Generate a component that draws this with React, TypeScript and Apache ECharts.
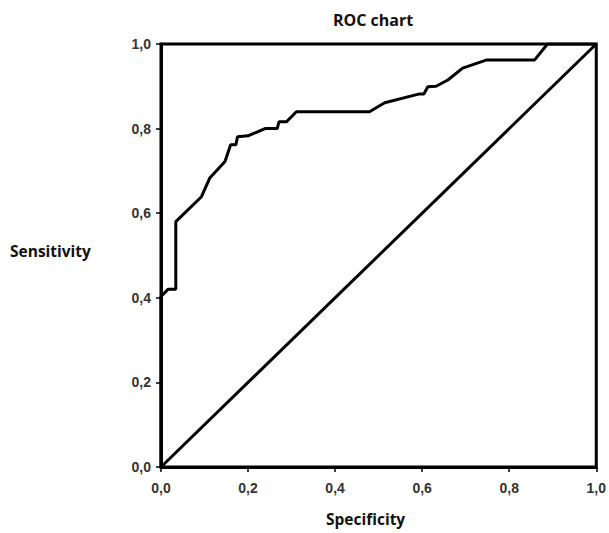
import React, { useEffect, useRef } from "react";
import * as echarts from "echarts";

const fpr = [0, 0, 0.016, 0.034, 0.034, 0.093, 0.112, 0.147, 0.160, 0.172, 0.176, 0.2, 0.239, 0.267, 0.271, 0.288, 0.311, 0.479, 0.514, 0.594, 0.604, 0.613, 0.632, 0.659, 0.693, 0.747, 0.858, 0.888, 1.0];
const tpr = [0, 0.403, 0.42, 0.42, 0.58, 0.639, 0.683, 0.722, 0.762, 0.762, 0.781, 0.783, 0.8, 0.8, 0.816, 0.816, 0.84, 0.84, 0.861, 0.882, 0.882, 0.899, 0.9, 0.915, 0.943, 0.962, 0.962, 1.0, 1.0];
const refX = [0, 1];
const refY = [0, 1];

export default function App() {
  const ref = useRef<HTMLDivElement>(null);
  useEffect(() => {
    if (!ref.current) return;
    const chart = echarts.init(ref.current, null, { renderer: "svg" });
    const fmt = (v: number) => v.toFixed(1).replace(".", ",");
    const axisCommon = {
      type: "value" as const,
      min: 0,
      max: 1,
      interval: 0.2,
      splitLine: { show: false },
      axisLine: { show: true, lineStyle: { color: "#000", width: 3 } },
      axisTick: { show: true, inside: false, length: 5, lineStyle: { color: "#000", width: 1.5 } },
    };
    const labelStyle = {
      formatter: (v: number) => fmt(v),
      fontFamily: "Liberation Sans",
      fontWeight: "bold" as const,
      fontSize: 14,
      color: "#333",
      showMinLabel: true,
      showMaxLabel: true,
    };
    chart.setOption({
      animation: false,
      backgroundColor: "#fff",
      grid: {
        left: 161,
        top: 44,
        width: 436,
        height: 423,
        show: true,
        borderColor: "#000",
        borderWidth: 3,
        backgroundColor: "transparent",
      },
      title: {
        text: "ROC chart",
        left: 368,
        textAlign: "center",
        top: 7,
        textStyle: { fontFamily: "Open Sans", fontWeight: "bold", fontSize: 16, color: "#111" },
      },
      graphic: [
        {
          type: "text",
          left: 10,
          top: 243,
          style: { text: "Sensitivity", fontFamily: "Open Sans", fontWeight: "bold", fontSize: 15.5, fill: "#111" },
        },
        {
          type: "text",
          left: 326,
          top: 511,
          style: { text: "Specificity", fontFamily: "Open Sans", fontWeight: "bold", fontSize: 15.5, fill: "#111" },
        },
      ],
      xAxis: { ...axisCommon, axisLabel: { ...labelStyle, margin: 14 } },
      yAxis: { ...axisCommon, axisLabel: { ...labelStyle, margin: 10 } },
      series: [
        {
          type: "line",
          data: refX.map((x, i) => [x, refY[i]]),
          showSymbol: false,
          symbol: "none",
          lineStyle: { color: "#000", width: 3 },
          silent: true,
        },
        {
          type: "line",
          data: fpr.map((x, i) => [x, tpr[i]]),
          showSymbol: false,
          symbol: "none",
          lineStyle: { color: "#000", width: 3 },
          silent: true,
        },
      ],
    });
    return () => chart.dispose();
  }, []);
  return (
    <div
      ref={ref}
      style={{ position: "fixed", left: 0, top: 0, width: 609, height: 533 }}
    />
  );
}
